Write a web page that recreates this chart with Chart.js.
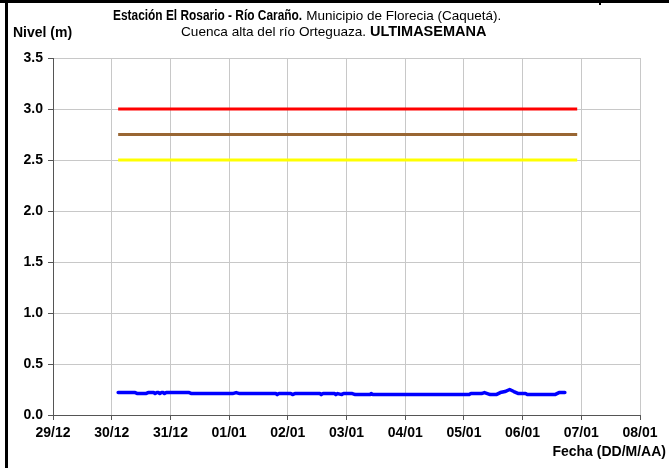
<!DOCTYPE html>
<html>
<head>
<meta charset="utf-8">
<script src="https://cdn.jsdelivr.net/npm/chart.js@4.4.1/dist/chart.umd.min.js"></script>
<style>
  html, body { margin: 0; padding: 0; background: #fff; }
  #wrap { position: relative; width: 669px; height: 468px; overflow: hidden; background: #fff; }
  #chart { position: absolute; left: 0; top: 0; }
  .frameTop { position: absolute; left: 0; top: 0; width: 669px; height: 3px; background: #000; }
  .frameLeft { position: absolute; left: 5px; top: 0; width: 3px; height: 468px; background: #000; }
  .tick { position: absolute; left: 599px; top: 0; width: 2px; height: 5px; background: #000; }
  .txt { position: absolute; white-space: nowrap; color: #000; font-family: 'Liberation Sans', Arial, sans-serif; }
  .b { font-weight: bold; }
  .n { font-weight: normal; }
  .cond { display: inline-block; transform: scaleX(0.85); transform-origin: left center; margin-right: -33px; }
</style>
</head>
<body>
<div id="wrap">
  <canvas id="chart" width="669" height="468"></canvas>
  <div class="frameTop"></div>
  <div class="frameLeft"></div>
  <div class="tick"></div>
  <div class="txt" style="left:113px; top:7px; font-size:14px; line-height:16px;"><span class="b cond">Estación El Rosario - Río Caraño.</span><span class="n" style="font-size:13.5px;"> Municipio de Florecia (Caquetá).</span></div>
  <div class="txt" style="left:181px; top:23px; font-size:13.6px; line-height:16px;"><span class="n">Cuenca alta del río Orteguaza. </span><span class="b" style="font-size:14.5px;">ULTIMASEMANA</span></div>
  <div class="txt b" style="left:13px; top:24px; font-size:14px; line-height:16px;">Nivel (m)</div>
  <div class="txt b" style="right:3px; top:443px; font-size:14px; line-height:16px;">Fecha (DD/M/AA)</div>
</div>
<script>
// ---- Data ----
const dateLabels = ['29/12','30/12','31/12','01/01','02/01','03/01','04/01','05/01','06/01','07/01','08/01'];
const yTicks = [0, 0.5, 1.0, 1.5, 2.0, 2.5, 3.0, 3.5];

// time in days since 29/12 00:00
const levelTimes = [
  1.11, 1.40, 1.44, 1.58, 1.62, 1.72, 1.74, 1.77, 1.80, 1.82, 1.85, 1.88, 1.90, 1.93,
  2.28, 2.32, 2.36, 2.42, 3.06, 3.12, 3.18, 3.80, 3.82, 3.85, 4.05, 4.08, 4.12,
  4.55, 4.57, 4.60, 4.80, 4.82, 4.85, 4.92, 4.95, 5.10, 5.15, 5.40, 5.42, 5.45,
  6.50, 7.09, 7.12, 7.30, 7.35, 7.40, 7.45, 7.55, 7.62, 7.70, 7.78, 7.85, 7.93,
  8.05, 8.08, 8.55, 8.62, 8.72
];
const levelValues = [
  0.22, 0.22, 0.21, 0.21, 0.22, 0.22, 0.21, 0.22, 0.22, 0.21, 0.22, 0.22, 0.21, 0.22,
  0.22, 0.22, 0.21, 0.21, 0.21, 0.22, 0.21, 0.21, 0.20, 0.21, 0.21, 0.20, 0.21,
  0.21, 0.20, 0.21, 0.21, 0.20, 0.21, 0.20, 0.21, 0.21, 0.20, 0.20, 0.21, 0.20,
  0.20, 0.20, 0.21, 0.21, 0.22, 0.21, 0.20, 0.20, 0.22, 0.23, 0.25, 0.23, 0.21,
  0.21, 0.20, 0.20, 0.22, 0.22
];

const thresholdStart = 1.11;
const thresholdEnd = 8.93;
const redLevel = 3.0;
const brownLevel = 2.75;
const yellowLevel = 2.5;

// ---- Build ----
const levelPoints = levelTimes.map((t, i) => ({ x: t, y: levelValues[i] }));
const hLine = (v) => [{ x: thresholdStart, y: v }, { x: thresholdEnd, y: v }];

const FONT = "'Liberation Sans', Arial, sans-serif";

new Chart(document.getElementById('chart'), {
  type: 'line',
  data: {
    datasets: [
      { data: hLine(redLevel), borderColor: '#ff0000', borderWidth: 3, pointRadius: 0 },
      { data: hLine(brownLevel), borderColor: '#996633', borderWidth: 3, pointRadius: 0 },
      { data: hLine(yellowLevel), borderColor: '#ffff00', borderWidth: 3, pointRadius: 0 },
      { data: levelPoints, borderColor: '#0000ff', borderWidth: 3.5, pointRadius: 0, tension: 0,
        borderJoinStyle: 'round', borderCapStyle: 'round' }
    ]
  },
  options: {
    responsive: false,
    animation: false,
    events: [],
    layout: { padding: { left: 0, top: 58, right: 29, bottom: 0 } },
    plugins: { legend: { display: false }, tooltip: { enabled: false }, title: { display: false } },
    scales: {
      x: {
        type: 'linear',
        min: 0,
        max: dateLabels.length - 1,
        afterFit: (s) => { s.height = 53; },
        afterBuildTicks: (s) => { s.ticks = dateLabels.map((_, i) => ({ value: i })); },
        ticks: {
          stepSize: 1,
          autoSkip: false,
          maxRotation: 0,
          padding: 5,
          color: '#000',
          font: { family: FONT, size: 14, weight: 'bold' },
          callback: (v) => dateLabels[v] ?? ''
        },
        grid: { color: '#c8c8c8', lineWidth: 1, tickLength: 5, tickColor: '#555' },
        border: { color: '#555', width: 1 }
      },
      y: {
        min: 0,
        max: 3.5,
        afterFit: (s) => { s.width = 53; },
        afterBuildTicks: (s) => { s.ticks = yTicks.map(v => ({ value: v })); },
        ticks: {
          stepSize: 0.5,
          padding: 5,
          color: '#000',
          font: { family: FONT, size: 14, weight: 'bold' },
          callback: (v) => Number(v).toFixed(1)
        },
        grid: { color: '#c8c8c8', lineWidth: 1, tickLength: 5, tickColor: '#555' },
        border: { color: '#555', width: 1 }
      }
    }
  }
});
</script>
</body>
</html>
